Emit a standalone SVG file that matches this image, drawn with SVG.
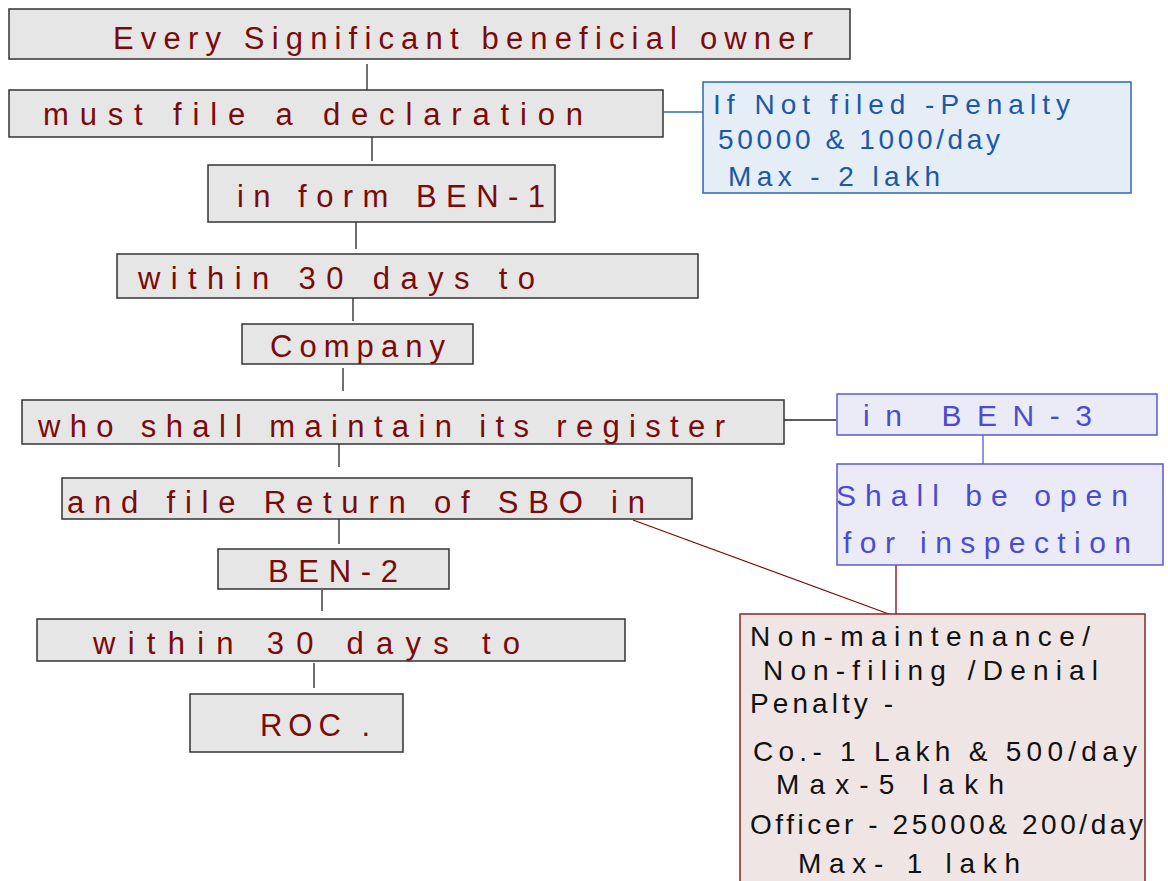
<svg xmlns="http://www.w3.org/2000/svg" width="1168" height="881" viewBox="0 0 1168 881">
<style>
.box{fill:#e6e6e6;stroke:#333;stroke-width:1.5}
.t{font-family:"Liberation Sans",Arial,sans-serif;font-size:31px;fill:#7b0a0a}
.tb{font-family:"Liberation Sans",Arial,sans-serif;font-size:28px;fill:#1d58a6}
.tv{font-family:"Liberation Sans",Arial,sans-serif;font-size:30px;fill:#4b4bd2}
.tk{font-family:"Liberation Sans",Arial,sans-serif;font-size:28px;fill:#111}
.c{stroke:#222;stroke-width:1.3;fill:none}
</style>
<rect width="1168" height="881" fill="#fff"/>
<g id="connectors">
<line class="c" x1="367" y1="64" x2="367" y2="90"/>
<line class="c" x1="372" y1="137" x2="372" y2="161"/>
<line class="c" x1="356" y1="222" x2="356" y2="249"/>
<line class="c" x1="353" y1="298" x2="353" y2="321"/>
<line class="c" x1="343" y1="368" x2="343" y2="391"/>
<line class="c" x1="339" y1="444" x2="339" y2="467"/>
<line class="c" x1="339" y1="519" x2="339" y2="544"/>
<line class="c" x1="322" y1="590" x2="322" y2="611"/>
<line class="c" x1="314" y1="663" x2="314" y2="688"/>
<line x1="664" y1="112" x2="703" y2="112" stroke="#2a6ab0" stroke-width="1.3"/>
<line class="c" x1="784" y1="420" x2="836" y2="420"/>
<line x1="983" y1="435" x2="983" y2="464" stroke="#5a5ad0" stroke-width="1.3"/>
<line x1="896" y1="565" x2="896" y2="617" stroke="#7b0a0a" stroke-width="1.3"/>
<line x1="633" y1="520" x2="897" y2="617" stroke="#7b0a0a" stroke-width="1.3"/>
</g>
<g id="n1"><rect class="box" x="9" y="9" width="841" height="50"/><text class="t" x="113" y="49" textLength="700" lengthAdjust="spacing">Every Significant beneficial owner</text></g>
<g id="n2"><rect class="box" x="9" y="90" width="654" height="47"/><text class="t" x="43" y="125" textLength="540" lengthAdjust="spacing">must file a declaration</text></g>
<g id="n3"><rect class="box" x="208" y="165" width="347" height="57"/><text class="t" x="237" y="207" textLength="308" lengthAdjust="spacing">in form BEN-1</text></g>
<g id="n4"><rect class="box" x="117" y="254" width="581" height="44"/><text class="t" x="138" y="289" textLength="397" lengthAdjust="spacing">within 30 days to</text></g>
<g id="n5"><rect class="box" x="242" y="324" width="231" height="40"/><text class="t" x="270" y="357" textLength="175" lengthAdjust="spacing">Company</text></g>
<g id="n6"><rect class="box" x="22" y="400" width="762" height="44"/><text class="t" x="38" y="437" textLength="687" lengthAdjust="spacing">who shall maintain its register</text></g>
<g id="n7"><rect class="box" x="62" y="478" width="630" height="41"/><text class="t" x="67" y="513" textLength="578" lengthAdjust="spacing">and file Return of SBO in</text></g>
<g id="n8"><rect class="box" x="218" y="549" width="231" height="40"/><text class="t" x="268" y="582" textLength="130" lengthAdjust="spacing">BEN-2</text></g>
<g id="n9"><rect class="box" x="37" y="619" width="588" height="42"/><text class="t" x="93" y="654" textLength="427" lengthAdjust="spacing">within 30 days to</text></g>
<g id="n10"><rect class="box" x="190" y="694" width="213" height="58"/><text class="t" x="260" y="736" textLength="110" lengthAdjust="spacing">ROC .</text></g>
<g id="note1"><rect x="703" y="82" width="428" height="111" fill="#e5eef7" stroke="#2a6ab0" stroke-width="1.5"/>
<text class="tb" x="713" y="114" textLength="357" lengthAdjust="spacing">If Not filed -Penalty</text>
<text class="tb" x="718" y="149" textLength="282" lengthAdjust="spacing">50000 &amp; 1000/day</text>
<text class="tb" x="728" y="186" textLength="212" lengthAdjust="spacing">Max - 2 lakh</text></g>
<g id="note2"><rect x="837" y="394" width="320" height="41" fill="#ebebf8" stroke="#5a5ad0" stroke-width="1.5"/>
<text class="tv" x="863" y="426" textLength="229" lengthAdjust="spacing">in BEN-3</text></g>
<g id="note3"><rect x="837" y="464" width="326" height="101" fill="#ebebf8" stroke="#5a5ad0" stroke-width="1.5"/>
<text class="tv" x="836" y="506" textLength="292" lengthAdjust="spacing">Shall be open</text>
<text class="tv" x="843" y="553" textLength="288" lengthAdjust="spacing">for inspection</text></g>
<g id="note4"><rect x="740" y="614" width="405" height="280" fill="#efe5e5" stroke="#8b2424" stroke-width="1.5"/>
<text class="tk" x="750" y="646" textLength="340" lengthAdjust="spacing">Non-maintenance/</text>
<text class="tk" x="763" y="680" textLength="335" lengthAdjust="spacing">Non-filing /Denial</text>
<text class="tk" x="750" y="713" textLength="143" lengthAdjust="spacing">Penalty -</text>
<text class="tk" x="753" y="761" textLength="384" lengthAdjust="spacing">Co.- 1 Lakh &amp; 500/day</text>
<text class="tk" x="776" y="794" textLength="228" lengthAdjust="spacing">Max-5 lakh</text>
<text class="tk" x="750" y="834" textLength="393" lengthAdjust="spacing">Officer - 25000&amp; 200/day</text>
<text class="tk" x="798" y="873" textLength="222" lengthAdjust="spacing">Max- 1 lakh</text></g>
</svg>
